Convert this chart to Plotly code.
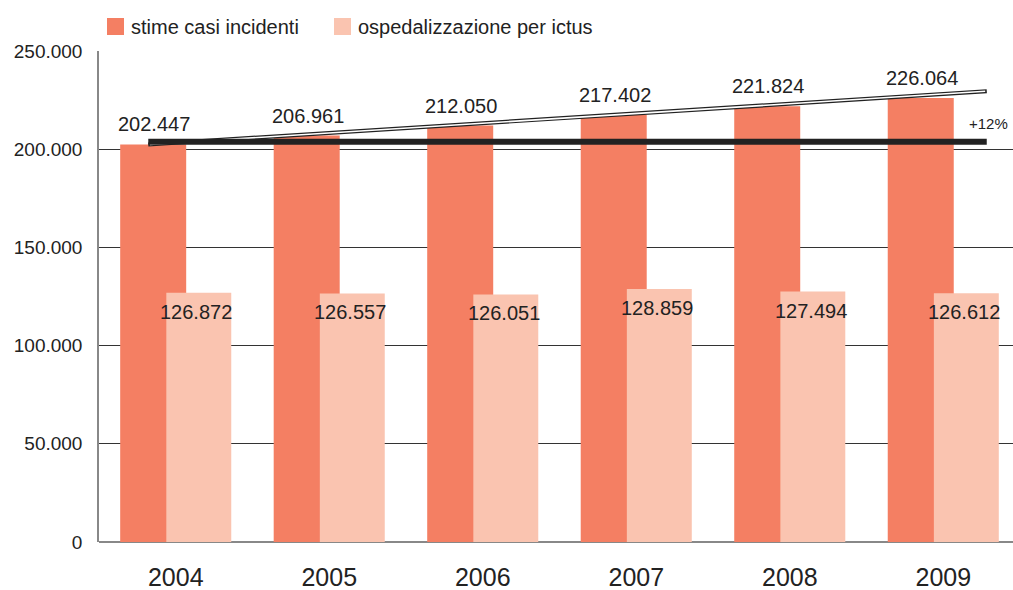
import plotly.graph_objects as go

years = ["2004", "2005", "2006", "2007", "2008", "2009"]
stime_casi = [202447, 206961, 212050, 217402, 221824, 226064]
ospedalizzazione = [126872, 126557, 126051, 128859, 127494, 126612]
y_ticks = [0, 50000, 100000, 150000, 200000, 250000]
series_names = ["stime casi incidenti", "ospedalizzazione per ictus"]
trend_start = 202447
trend_end = 229500
trend_label = "+12%"

DARK = "#F47F63"
LIGHT = "#FAC4B0"
FONT = "Liberation Sans"
TXT = "#222"

W, H = 1013, 590
ML, MR, MT, MB = 99, 0, 51, 48
PW, PH = W - ML - MR, H - MT - MB

xs = list(range(len(years)))

def fmt(v):
    return f"{v:,}".replace(",", ".")

fig = go.Figure()
fig.add_trace(go.Bar(
    x=[i - 0.147 for i in xs], y=stime_casi, width=0.43,
    marker=dict(color=DARK, line=dict(width=0)),
    name=series_names[0], showlegend=False,
))
fig.add_trace(go.Bar(
    x=[i + 0.15 for i in xs], y=ospedalizzazione, width=0.423,
    marker=dict(color=LIGHT, line=dict(width=0)),
    name=series_names[1], showlegend=False,
))

annotations = []
for i, v in enumerate(stime_casi):
    annotations.append(dict(x=i - 0.14, y=v, text=fmt(v), showarrow=False,
                            yshift=20, font=dict(size=20, color=TXT, family=FONT)))
for i, v in enumerate(ospedalizzazione):
    annotations.append(dict(x=i + 0.135, y=v, text=fmt(v), showarrow=False,
                            yshift=-19, font=dict(size=20, color=TXT, family=FONT)))
annotations.append(dict(x=5.295, y=trend_start, text=trend_label, showarrow=False,
                        yshift=21, font=dict(size=15, color=TXT, family=FONT)))

x0, x1 = -0.179, 5.283
shapes = [
    dict(type="line", xref="x", yref="y", x0=x0, x1=x1, y0=trend_start, y1=trend_end,
         line=dict(color="#222", width=4)),
    dict(type="line", xref="x", yref="y", x0=x0 + 0.01, x1=x1 - 0.01, y0=trend_start, y1=trend_end,
         line=dict(color="white", width=1.6)),
    dict(type="line", xref="x", yref="y", x0=x0, x1=x1, y0=trend_start + 1300, y1=trend_start + 1300,
         line=dict(color="#222", width=6)),
]

def px_x(p):
    return (p - ML) / PW

def px_y(p):
    return (H - MB - p) / PH

legend_items = [(107, 129, DARK, series_names[0]), (334, 356, LIGHT, series_names[1])]
for sx, tx, col, name in legend_items:
    shapes.append(dict(type="rect", xref="paper", yref="paper",
                       x0=px_x(sx), x1=px_x(sx + 17), y0=px_y(35), y1=px_y(18),
                       fillcolor=col, line=dict(width=0)))
    annotations.append(dict(xref="paper", yref="paper", x=px_x(tx), y=px_y(27),
                            xanchor="left", yanchor="middle", text=name, showarrow=False,
                            font=dict(size=20, color=TXT, family=FONT)))

fig.update_layout(
    width=W, height=H,
    margin=dict(l=ML, r=MR, t=MT, b=MB, autoexpand=False),
    paper_bgcolor="white", plot_bgcolor="white",
    barmode="overlay",
    separators=",.",
    font=dict(family=FONT, color=TXT),
    showlegend=False,
    xaxis=dict(range=[-0.5, 5.454], tickvals=xs, ticktext=years,
               tickfont=dict(size=25, color=TXT, family=FONT),
               showgrid=False, zeroline=False, showline=False, ticks="",
               ticklabelstandoff=18),
    yaxis=dict(range=[0, 250000], tickvals=y_ticks, tickformat=",d",
               tickfont=dict(size=19, color=TXT, family=FONT),
               showgrid=True, gridcolor="#333", gridwidth=1,
               zeroline=True, zerolinecolor="#888", zerolinewidth=1.5,
               showline=True, linecolor="#888", linewidth=1.5,
               ticks="", ticklabelstandoff=11),
    annotations=annotations,
    shapes=shapes,
)

fig.write_html("out.html", config={"displayModeBar": False},
               post_script="document.body.style.margin='0px';document.body.style.overflow='hidden';")
